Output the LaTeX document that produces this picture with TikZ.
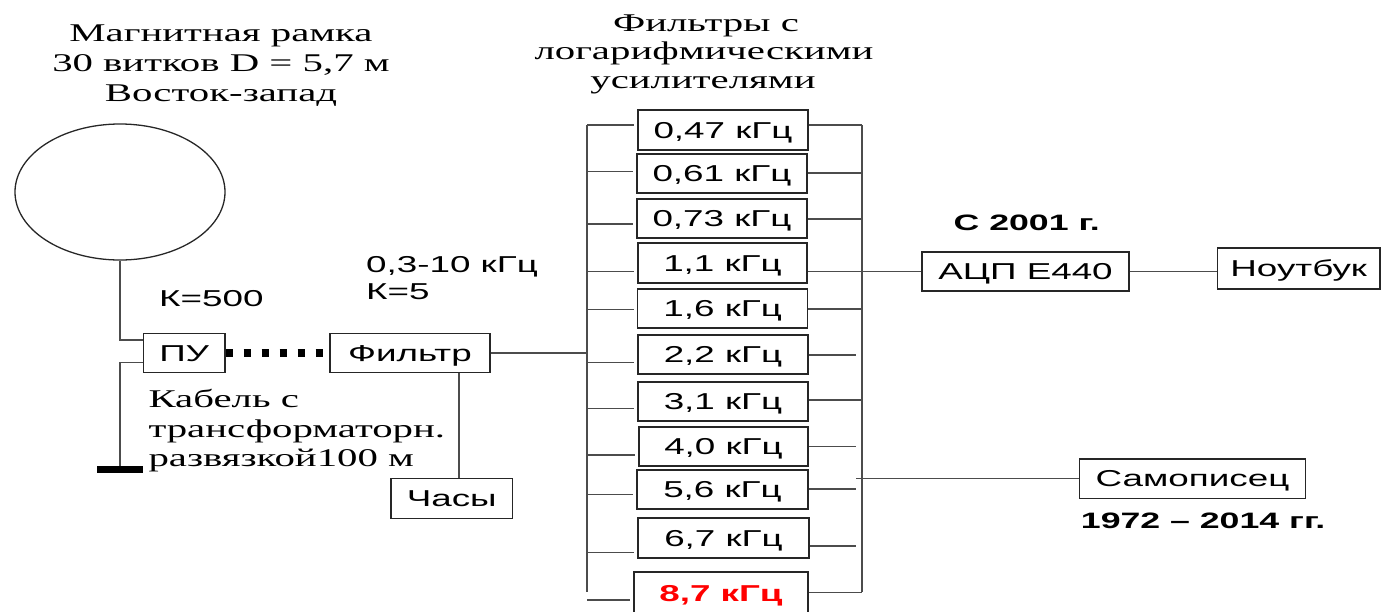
\documentclass[tikz,border=0pt]{standalone}
\usepackage{fontspec}
\setmainfont[FakeStretch=1.6]{Liberation Serif}
\setsansfont[FakeStretch=1.6]{Liberation Sans}
\usetikzlibrary{shapes.geometric}
\begin{document}
\begin{tikzpicture}[x=1pt,y=-1pt,
  box/.style={draw=black!85,line width=1.3pt,inner sep=0pt,font=\sffamily\fontsize{23}{27}\selectfont,text height=16.5pt,text depth=0pt},
  wire/.style={draw=black!70,line width=1.1pt},
  serif/.style={font=\rmfamily\fontsize{25.5}{30}\selectfont,inner sep=0pt},
  sans/.style={font=\sffamily\fontsize{23}{28}\selectfont,inner sep=0pt},
  bsans/.style={font=\sffamily\bfseries\fontsize{22.3}{27}\selectfont,inner sep=0pt}]
\useasboundingbox (0,0) rectangle (1381,611);

% titles
\node[serif,anchor=base] (t1) at (221,41.7) {Магнитная рамка};
\node[serif,anchor=base] (t2) at (221,71.7) {30 витков D = 5,7 м};
\node[serif,anchor=base] (t3) at (221,101.7) {Восток-запад};
\node[serif,anchor=base] (ft1) at (706,31.7) {Фильтры с};
\node[serif,anchor=base] (ft2) at (704,59.3) {логарифмическими};
\node[serif,anchor=base] (ft3) at (703,88.3) {усилителями};
\node[serif,anchor=base west] (c1) at (148.3,407) {Кабель с};
\node[serif,anchor=base west] (c2) at (148.3,437) {трансформаторн.};
\node[serif,anchor=base west] (c3) at (148.3,466) {развязкой100 м};
\node[sans,anchor=base west] (k500) at (159,306.7) {К=500};
\node[sans,anchor=base west] (fr) at (366,272) {0,3-10 кГц};
\node[sans,anchor=base west] (k5) at (366,299) {К=5};
\node[bsans,anchor=base] (y2001) at (1026.7,230) {С 2001 г.};
\node[bsans,anchor=base west] (y1972) at (1080.7,528.3) {1972 – 2014 гг.};

% loop antenna and preamp
\node[draw=black!85,line width=1.3pt,ellipse,inner sep=0pt,minimum width=210pt,minimum height=136pt] (loop) at (120,192) {};
\node[box,minimum width=81.7pt,minimum height=39pt] (pu) at (184.2,353) {ПУ};
\node[fill=black,inner sep=0pt,minimum width=46pt,minimum height=7.3pt] (gnd) at (120,469.7) {};
\node[box,minimum width=160pt,minimum height=39pt] (filt) at (410,353) {Фильтр};
\node[box,minimum width=121.5pt,minimum height=40pt] (clk) at (451.7,498.3) {Часы};

\draw[wire] (loop.south) |- ([yshift=13pt]pu.west);
\draw[wire] (gnd.north) |- ([yshift=-9.7pt]pu.west);
\draw[black,line width=7.5pt,dash pattern=on 7pt off 11pt] (pu.east) -- (filt.west);
\coordinate (cx) at (459,0);
\draw[wire] (filt.south -| cx) -- (clk.north -| cx);

% filter bank
\node[box,minimum width=170pt,minimum height=40pt] (f1) at (723,130) {0,47 кГц};
\node[box,minimum width=170pt,minimum height=39pt] (f2) at (722,173.5) {0,61 кГц};
\node[box,minimum width=170pt,minimum height=39pt] (f3) at (722,218.5) {0,73 кГц};
\node[box,minimum width=169pt,minimum height=40pt] (f4) at (722.5,263) {1,1 кГц};
\node[box,minimum width=170pt,minimum height=39pt] (f5) at (722.7,308.5) {1,6 кГц};
\node[box,minimum width=170pt,minimum height=39pt] (f6) at (723,354.5) {2,2 кГц};
\node[box,minimum width=170pt,minimum height=39pt] (f7) at (723,401.5) {3,1 кГц};
\node[box,minimum width=169pt,minimum height=39pt] (f8) at (723.5,446.5) {4,0 кГц};
\node[box,minimum width=171pt,minimum height=39pt] (f9) at (722.5,489.5) {5,6 кГц};
\node[box,minimum width=171pt,minimum height=40pt] (f10) at (723.5,538) {6,7 кГц};
\node[box,minimum width=174pt,minimum height=42pt,text=red,font=\sffamily\bfseries\fontsize{23}{27}\selectfont] (f11) at (721,593) {8,7 кГц};

\coordinate (lbt) at (587,125);
\coordinate (lbb) at (587,592);
\draw[wire] (lbt) -- (lbb);
\draw[wire] (filt.east) -- (filt.east -| lbt);
\foreach \i/\y in {1/125,2/171.7,3/224,4/271.7,5/309.3,6/362.7,7/408.7,8/455,9/494.3,10/552.7,11/600}{
  \coordinate (l\i) at (587,\y);
  \draw[wire,shorten >=3.5pt] (l\i) -- (l\i -| f\i.west);
}
\coordinate (rbt) at (862,125);
\coordinate (rbb) at (862,592.3);
\draw[wire] (rbt) -- (rbb);
\foreach \i/\y/\e in {1/125/862,2/173/862,3/219/862,5/309/862,6/355/856,7/400/862,8/446.7/856,9/489/856,10/546/856,11/592.3/862}{
  \coordinate (r\i) at (\e,\y);
  \draw[wire] (r\i -| f\i.east) -- (r\i);
}

% outputs
\node[box,minimum width=207pt,minimum height=39pt] (adc) at (1025.5,271.5) {АЦП Е440};
\node[box,minimum width=162.7pt,minimum height=41pt] (nb) at (1298.7,268.5) {Ноутбук};
\node[box,minimum width=226.4pt,minimum height=39.3pt] (sam) at (1192.5,478.7) {Самописец};
\draw[wire] (adc.west -| f4.east) -- (adc.west);
\draw[wire] (adc.east) -- (adc.east -| nb.west);
\coordinate (sl) at (856,478.7);
\draw[wire] (sl) -- (sam.west);
\end{tikzpicture}
\end{document}
